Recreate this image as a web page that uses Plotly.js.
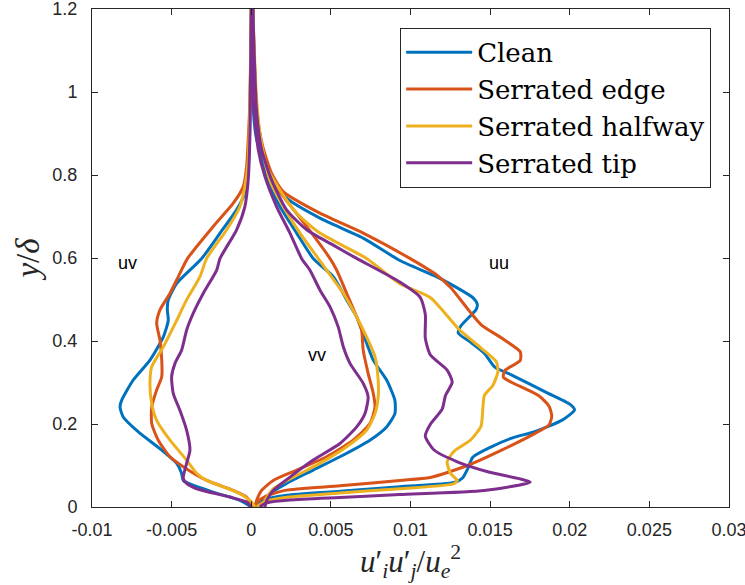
<!DOCTYPE html>
<html>
<head>
<meta charset="utf-8">
<script src="https://cdn.plot.ly/plotly-3.0.1.min.js"></script>
<style>html,body{margin:0;padding:0;background:#fff;}</style>
</head>
<body>
<div id="chart" style="width:745px;height:585px;"></div>
<script>
// ---- Data ----
const seriesNames = ["Clean", "Serrated edge", "Serrated halfway", "Serrated tip"];

// Clean
const clean_uu_x = [0.0001,0.00013,0.00034,0.00075,0.00138,0.00222,0.00431,0.00703,0.00933,0.01146,0.01252,0.0139,0.01419,0.01412,0.01316,0.0130,0.0137,0.01465,0.01529,0.01636,0.01849,0.0200,0.0203,0.01955,0.01785,0.01636,0.01508,0.01391,0.01359,0.01327,0.01274,0.00933,0.00557,0.00212,0.00092,0.00036,0.00017];
const clean_uu_y = [1.2,0.957,0.885,0.836,0.784,0.744,0.696,0.648,0.594,0.558,0.537,0.505,0.489,0.476,0.436,0.419,0.399,0.370,0.337,0.318,0.277,0.248,0.234,0.210,0.182,0.166,0.145,0.120,0.092,0.070,0.059,0.049,0.038,0.028,0.019,0.0065,0];
const clean_vv_x = [0.0001,0.00009,0.00023,0.00055,0.00107,0.0018,0.00285,0.00389,0.00515,0.00599,0.00662,0.00703,0.00766,0.0085,0.00902,0.00902,0.0085,0.00745,0.00557,0.00389,0.00222,0.00117,0.00065,0.00055];
const clean_vv_y = [1.2,1.142,0.941,0.861,0.780,0.724,0.660,0.599,0.555,0.499,0.458,0.418,0.354,0.306,0.257,0.225,0.193,0.161,0.121,0.089,0.057,0.032,0.008,0];
const clean_uv_x = [0.0,-0.00008,-0.00019,-0.0004,-0.00092,-0.00196,-0.00311,-0.00468,-0.00521,-0.00527,-0.00521,-0.00552,-0.00636,-0.00741,-0.00814,-0.00824,-0.00804,-0.00709,-0.00562,-0.00468,-0.00437,-0.00427,-0.00239,-0.00071,0.0];
const clean_uv_y = [1.2,0.941,0.820,0.756,0.716,0.660,0.599,0.539,0.499,0.475,0.450,0.410,0.354,0.306,0.257,0.241,0.217,0.181,0.137,0.105,0.081,0.064,0.036,0.016,0];

// Serrated edge
const edge_uu_x = [0.0001,0.00034,0.00072,0.00128,0.00201,0.00431,0.00703,0.00996,0.01168,0.01252,0.0137,0.01444,0.01572,0.01689,0.01689,0.01593,0.01583,0.01636,0.01806,0.0187,0.01887,0.0187,0.01785,0.01572,0.01359,0.01124,0.00933,0.00557,0.00212,0.00092,0.00036,0.00017];
const edge_uu_y = [1.2,0.957,0.869,0.804,0.760,0.708,0.660,0.599,0.558,0.529,0.472,0.439,0.407,0.374,0.353,0.329,0.313,0.300,0.268,0.243,0.219,0.198,0.178,0.137,0.100,0.071,0.064,0.051,0.040,0.026,0.011,0];
const edge_vv_x = [0.0001,0.00013,0.00034,0.00065,0.00117,0.0018,0.00348,0.00494,0.00536,0.00599,0.00662,0.00693,0.00703,0.00734,0.00766,0.00777,0.00745,0.0064,0.00473,0.00285,0.00138,0.00065,0.00034,0.00023];
const edge_vv_y = [1.2,1.142,0.965,0.869,0.804,0.760,0.676,0.599,0.571,0.515,0.458,0.426,0.378,0.322,0.274,0.241,0.201,0.161,0.121,0.089,0.064,0.040,0.016,0];
const edge_uv_x = [0.0,-0.00008,-0.00019,-0.00029,-0.0005,-0.00113,-0.00239,-0.0040,-0.00448,-0.0051,-0.00573,-0.00594,-0.00573,-0.00562,-0.00562,-0.00594,-0.00625,-0.00625,-0.00584,-0.0051,-0.00427,-0.0028,-0.00113,-0.00029,0.0001];
const edge_uv_y = [1.2,0.981,0.885,0.820,0.772,0.732,0.676,0.599,0.563,0.515,0.475,0.443,0.402,0.354,0.314,0.282,0.241,0.201,0.161,0.121,0.097,0.064,0.040,0.024,0];

// Serrated halfway
const half_uu_x = [0.0001,0.00034,0.00097,0.0018,0.00285,0.00431,0.00724,0.00933,0.01124,0.01305,0.01443,0.01539,0.01549,0.01517,0.01464,0.01454,0.01443,0.01379,0.01273,0.0123,0.01252,0.01294,0.01273,0.00933,0.00557,0.00212,0.00092,0.00048,0.00036];
const half_uu_y = [1.2,0.95,0.820,0.764,0.708,0.660,0.599,0.538,0.505,0.428,0.383,0.350,0.326,0.293,0.269,0.236,0.195,0.162,0.134,0.109,0.081,0.064,0.056,0.044,0.034,0.023,0.014,0.004,0];
const half_vv_x = [0.0001,0.00034,0.00065,0.00117,0.00201,0.00306,0.0042,0.00473,0.00578,0.00662,0.00724,0.00777,0.00797,0.00797,0.00777,0.00724,0.00599,0.00431,0.00264,0.00138,0.00086,0.00065];
const half_vv_y = [1.2,0.981,0.869,0.788,0.724,0.660,0.599,0.571,0.515,0.458,0.410,0.362,0.306,0.265,0.225,0.185,0.145,0.105,0.072,0.044,0.016,0];
const half_uv_x = [0.0,-0.00019,-0.0004,-0.00071,-0.00154,-0.0028,-0.00322,-0.00406,-0.00468,-0.00552,-0.00625,-0.00636,-0.00625,-0.00594,-0.0051,-0.00406,-0.00343,-0.0028,-0.00092,-0.00008,0.00023];
const half_uv_y = [1.2,0.836,0.772,0.724,0.668,0.599,0.555,0.499,0.450,0.386,0.338,0.298,0.249,0.209,0.161,0.113,0.081,0.064,0.036,0.016,0];

// Serrated tip
const tip_uu_x = [0.0001,0.00034,0.00065,0.00128,0.00222,0.00348,0.00515,0.00662,0.00933,0.01061,0.01093,0.01093,0.01124,0.0123,0.01262,0.0122,0.01199,0.01124,0.01093,0.01146,0.01294,0.01485,0.01751,0.01464,0.00933,0.00557,0.00243,0.00105,0.00067,0.00055];
const tip_uu_y = [1.2,0.95,0.861,0.788,0.716,0.668,0.631,0.599,0.542,0.505,0.464,0.407,0.367,0.330,0.301,0.269,0.236,0.199,0.171,0.138,0.109,0.085,0.060,0.040,0.030,0.023,0.017,0.011,0.004,0];
const tip_vv_x = [0.0001,0.00013,0.00044,0.00086,0.00159,0.00243,0.00316,0.00368,0.00431,0.00494,0.00546,0.00578,0.0062,0.00703,0.00734,0.00714,0.00662,0.00557,0.00389,0.00243,0.00138,0.00097,0.00086];
const tip_vv_y = [1.2,0.981,0.861,0.796,0.724,0.660,0.599,0.571,0.523,0.483,0.434,0.386,0.346,0.298,0.265,0.225,0.193,0.153,0.113,0.072,0.040,0.016,0];
const tip_uv_x = [0.0,-0.00008,-0.00019,-0.0004,-0.00092,-0.00196,-0.00217,-0.00301,-0.00364,-0.00406,-0.00437,-0.00479,-0.005,-0.0049,-0.00448,-0.00406,-0.00385,-0.00406,-0.00427,-0.00406,-0.00343,-0.00134,-0.00029,0.0];
const tip_uv_y = [1.2,0.901,0.788,0.724,0.668,0.599,0.571,0.515,0.467,0.426,0.378,0.346,0.314,0.274,0.233,0.185,0.137,0.105,0.069,0.057,0.044,0.024,0.012,0];

const xTickVals = [-0.01,-0.005,0,0.005,0.01,0.015,0.02,0.025,0.03];
const xTickText = ["-0.01","-0.005","0","0.005","0.01","0.015","0.02","0.025","0.03"];
const yTickVals = [0,0.2,0.4,0.6,0.8,1,1.2];
const yTickText = ["0","0.2","0.4","0.6","0.8","1","1.2"];

const labelText = ["uv","vv","uu"];
const labelX = [-0.0078,0.0041,0.01555];
const labelY = [0.588,0.366,0.588];

// ---- Build traces ----
const colors = ["#0072BD","#D95319","#EDB120","#7E2F8E"];
const groups = [
  [clean_uu_x, clean_uu_y, clean_vv_x, clean_vv_y, clean_uv_x, clean_uv_y],
  [edge_uu_x, edge_uu_y, edge_vv_x, edge_vv_y, edge_uv_x, edge_uv_y],
  [half_uu_x, half_uu_y, half_vv_x, half_vv_y, half_uv_x, half_uv_y],
  [tip_uu_x, tip_uu_y, tip_vv_x, tip_vv_y, tip_uv_x, tip_uv_y]
];
const traces = groups.map((g, i) => ({
  type: "scatter",
  mode: "lines",
  name: seriesNames[i],
  x: g[0].concat([null], g[2], [null], g[4]),
  y: g[1].concat([null], g[3], [null], g[5]),
  connectgaps: false,
  line: {color: colors[i], width: 3, shape: "spline", smoothing: 0.6},
  hoverinfo: "skip"
}));

const axisCommon = {
  showgrid: false, zeroline: false, showline: true, mirror: "ticks",
  linecolor: "#262626", linewidth: 1, ticks: "inside", ticklen: 6,
  tickcolor: "#262626", tickwidth: 1, ticklabeloverflow: "allow",
  tickfont: {family: "Liberation Sans, Arial, sans-serif", size: 18, color: "#262626"}
};

const layout = {
  width: 745, height: 585,
  margin: {l: 92, r: 16, t: 9, b: 78, pad: 0},
  paper_bgcolor: "#fff", plot_bgcolor: "#fff",
  showlegend: true,
  xaxis: Object.assign({}, axisCommon, {
    range: [-0.0100001, 0.0300001], tickmode: "array", tickvals: xTickVals, ticktext: xTickText,
    ticklabelstandoff: 6,
    title: {text: "<i>u</i>′<sub><i>i</i></sub><i>u</i>′<sub><i>j</i></sub>/<i>u</i><sub><i>e</i></sub><sup>2</sup>",
            font: {family: "Liberation Serif, serif", size: 31, color: "#262626"}, standoff: 0}
  }),
  yaxis: Object.assign({}, axisCommon, {
    range: [0, 1.200001], tickmode: "array", tickvals: yTickVals, ticktext: yTickText,
    ticklabelstandoff: 10,
    title: {text: "<i>y</i>/<i>δ</i>", font: {family: "Liberation Serif, serif", size: 33, color: "#262626"}, standoff: 2}
  }),
  legend: {
    x: 0.972, xanchor: "right", y: 0.962, yanchor: "top",
    bgcolor: "#fff", bordercolor: "#262626", borderwidth: 1,
    font: {family: "DejaVu Serif, serif", size: 26, color: "#000"},
    itemwidth: 66, tracegroupgap: 0
  },
  annotations: labelText.map((t, i) => ({
    x: labelX[i], y: labelY[i], xref: "x", yref: "y", text: t, showarrow: false,
    font: {family: "Liberation Sans, Arial, sans-serif", size: 18, color: "#000"}
  }))
};

Plotly.newPlot("chart", traces, layout, {displayModeBar: false, staticPlot: true});
</script>
</body>
</html>
